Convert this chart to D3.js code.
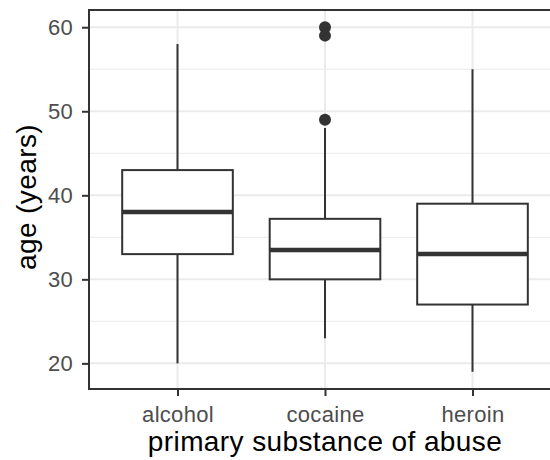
<!DOCTYPE html>
<html>
<head>
<meta charset="utf-8">
<script src="https://cdn.jsdelivr.net/npm/d3@7"></script>
<style>
  body { margin: 0; background: #fff; }
  svg { font-family: "Liberation Sans", Arial, sans-serif; }
</style>
</head>
<body>
<svg></svg>
<script>
// box summaries
var categories = ["alcohol", "cocaine", "heroin"];
var whiskerLow = [20, 23, 19];
var q1 = [33, 30, 27];
var medians = [38, 33.5, 33];
var q3 = [43, 37.2, 39];
var whiskerHigh = [58, 48, 55];
var outliers = [[], [60, 59, 49], []];
var yTicks = [20, 30, 40, 50, 60];
var yMinor = [25, 35, 45, 55];

var svgWidth = 550, svgHeight = 460;
var margin = { top: 10, right: -11, bottom: 71, left: 89 };
var width = svgWidth - margin.left - margin.right;
var height = svgHeight - margin.top - margin.bottom;

var svg = d3.select("svg")
  .attr("width", svgWidth)
  .attr("height", svgHeight);

var g = svg.append("g")
  .attr("transform", "translate(" + margin.left + "," + margin.top + ")");

var x = d3.scalePoint()
  .domain(categories)
  .range([0, width])
  .padding(0.6);

var step = x.step();
var boxWidth = step * 0.75;

var y = d3.scaleLinear()
  .domain([16.95, 62.05])
  .range([height, 0]);

// grid
g.selectAll(".minor")
  .data(yMinor)
  .enter().append("line")
  .attr("x1", 0).attr("x2", width)
  .attr("y1", function (d) { return y(d); })
  .attr("y2", function (d) { return y(d); })
  .attr("stroke", "#ebebeb")
  .attr("stroke-width", 1);

g.selectAll(".major")
  .data(yTicks)
  .enter().append("line")
  .attr("x1", 0).attr("x2", width)
  .attr("y1", function (d) { return y(d); })
  .attr("y2", function (d) { return y(d); })
  .attr("stroke", "#ebebeb")
  .attr("stroke-width", 2);

g.selectAll(".vmajor")
  .data(categories)
  .enter().append("line")
  .attr("x1", function (d) { return x(d); })
  .attr("x2", function (d) { return x(d); })
  .attr("y1", 0).attr("y2", height)
  .attr("stroke", "#ebebeb")
  .attr("stroke-width", 2);

// boxes
var boxes = g.selectAll(".box")
  .data(categories)
  .enter().append("g");

boxes.append("line")
  .attr("x1", function (d) { return x(d); })
  .attr("x2", function (d) { return x(d); })
  .attr("y1", function (d, i) { return y(q3[i]); })
  .attr("y2", function (d, i) { return y(whiskerHigh[i]); })
  .attr("stroke", "#333333")
  .attr("stroke-width", 2);

boxes.append("line")
  .attr("x1", function (d) { return x(d); })
  .attr("x2", function (d) { return x(d); })
  .attr("y1", function (d, i) { return y(q1[i]); })
  .attr("y2", function (d, i) { return y(whiskerLow[i]); })
  .attr("stroke", "#333333")
  .attr("stroke-width", 2);

boxes.append("rect")
  .attr("x", function (d) { return x(d) - boxWidth / 2; })
  .attr("width", boxWidth)
  .attr("y", function (d, i) { return y(q3[i]); })
  .attr("height", function (d, i) { return y(q1[i]) - y(q3[i]); })
  .attr("fill", "#fff")
  .attr("stroke", "#333333")
  .attr("stroke-width", 2);

boxes.append("line")
  .attr("x1", function (d) { return x(d) - boxWidth / 2; })
  .attr("x2", function (d) { return x(d) + boxWidth / 2; })
  .attr("y1", function (d, i) { return y(medians[i]); })
  .attr("y2", function (d, i) { return y(medians[i]); })
  .attr("stroke", "#333333")
  .attr("stroke-width", 4.5);

boxes.each(function (d, i) {
  d3.select(this).selectAll("circle")
    .data(outliers[i])
    .enter().append("circle")
    .attr("cx", x(d))
    .attr("cy", function (v) { return y(v); })
    .attr("r", 6)
    .attr("fill", "#333333");
});

// panel border
g.append("rect")
  .attr("width", width)
  .attr("height", height)
  .attr("fill", "none")
  .attr("stroke", "#333333")
  .attr("stroke-width", 2);

// axes
var yAxis = g.append("g")
  .call(d3.axisLeft(y).tickValues(yTicks).tickSize(7).tickPadding(9));
yAxis.select(".domain").remove();
yAxis.selectAll("line").attr("stroke", "#333333").attr("stroke-width", 2);
yAxis.selectAll("text")
  .attr("fill", "#4d4d4d")
  .style("font-size", "22px")
  .style("letter-spacing", "0.3px")
  .attr("font-family", "Liberation Sans, Arial, sans-serif");

var xAxis = g.append("g")
  .attr("transform", "translate(0," + height + ")")
  .call(d3.axisBottom(x).tickSize(7).tickPadding(10));
xAxis.select(".domain").remove();
xAxis.selectAll("line").attr("stroke", "#333333").attr("stroke-width", 2);
xAxis.selectAll("text")
  .attr("fill", "#4d4d4d")
  .style("font-size", "22px")
  .style("letter-spacing", "0.3px")
  .attr("font-family", "Liberation Sans, Arial, sans-serif");

// titles
svg.append("text")
  .attr("x", margin.left + x("cocaine"))
  .attr("y", 451)
  .attr("text-anchor", "middle")
  .style("font-size", "28px")
  .style("letter-spacing", "0.4px")
  .attr("fill", "#000")
  .text("primary substance of abuse");

svg.append("text")
  .attr("transform", "translate(36,197) rotate(-90)")
  .attr("text-anchor", "middle")
  .style("font-size", "28px")
  .style("letter-spacing", "0.4px")
  .attr("fill", "#000")
  .text("age (years)");
</script>
</body>
</html>
